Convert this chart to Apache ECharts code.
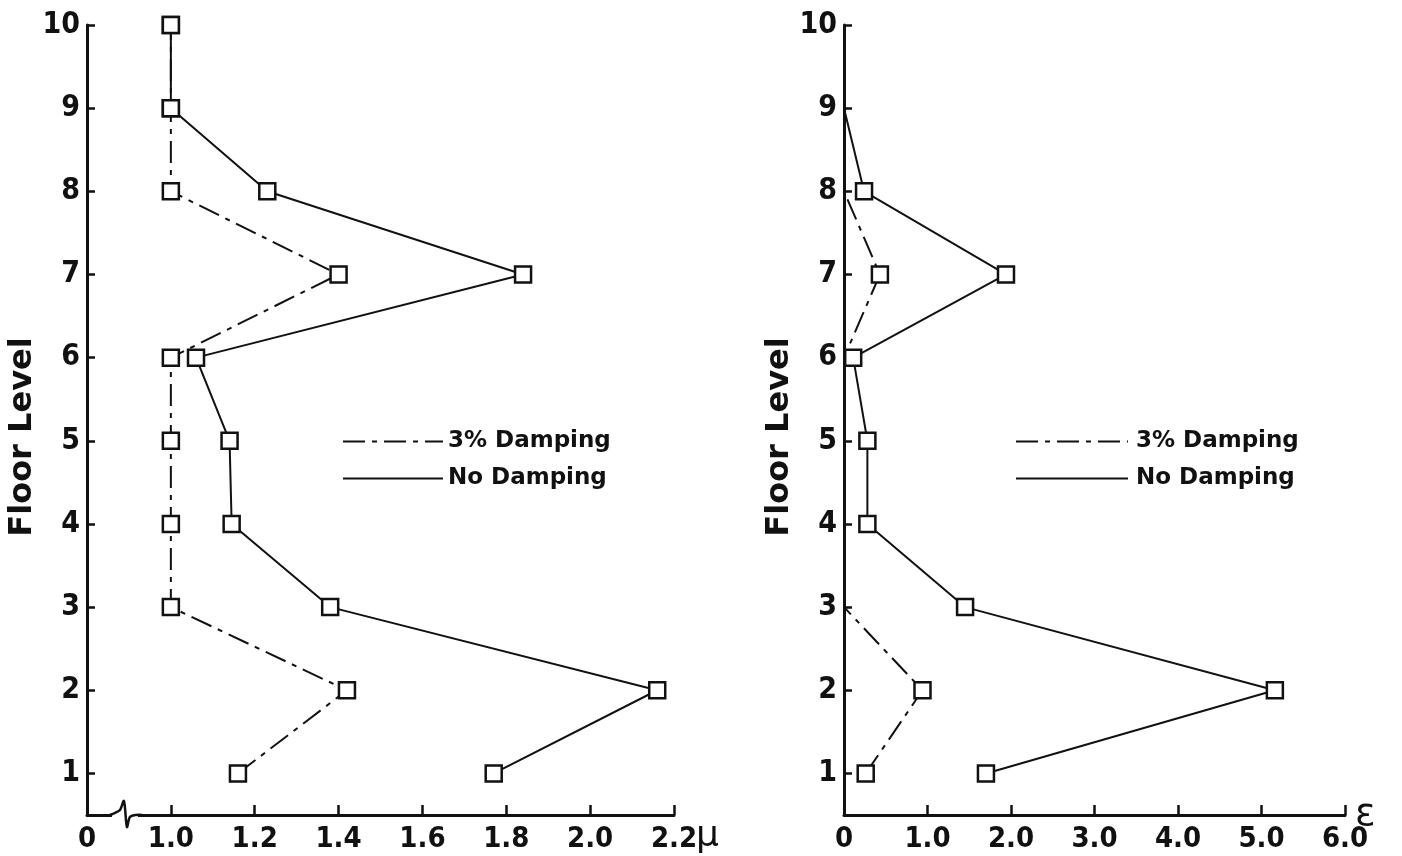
<!DOCTYPE html>
<html>
<head>
<meta charset="utf-8">
<script src="https://cdn.jsdelivr.net/npm/echarts@6/dist/echarts.min.js"></script>
<style>
html,body{margin:0;padding:0;background:#fff;}
#chart{width:1402px;height:856px;}
</style>
</head>
<body>
<div id="chart"></div>
<script>
// ---- data ----
const floors = [1, 2, 3, 4, 5, 6, 7, 8, 9, 10];
const seriesNames = ['3% Damping', 'No Damping'];
// left panel: ductility ratio mu
const muDamped   = [1.16, 1.42, 1.00, 1.00, 1.00, 1.00, 1.40, 1.00, 1.00, 1.00];
const muUndamped = [1.77, 2.16, 1.38, 1.145, 1.14, 1.06, 1.84, 1.23, 1.00, 1.00];
// right panel: epsilon
const epsDamped   = [0.26, 0.94, 0, 0, 0, 0, 0.43, 0, null, null];
const epsUndamped = [1.70, 5.16, 1.45, 0.28, 0.28, 0.11, 1.94, 0.24, 0, null];
// tick labels
const muTicks  = [0.8, 1.0, 1.2, 1.4, 1.6, 1.8, 2.0, 2.2];
const epsTicks = [0, 1, 2, 3, 4, 5, 6];
const floorTicks = floors;

const FONT = 'DejaVu Sans';
const TICKFONT = "'DejaVu Sans Condensed', 'DejaVu Sans'";
const BLACK = '#111';

function pts(xs, markAll) {
  return xs.map((v, i) => {
    if (v === null) return [null, floors[i]];
    const show = markAll ? true : v > 0.05;
    return { value: [v, floors[i]], symbol: show ? 'rect' : 'none' };
  });
}

const chart = echarts.init(document.getElementById('chart'), null, {renderer: 'canvas'});

const axisLine = {show: true, lineStyle: {color: BLACK, width: 3}};
function xAxisCfg(idx, ticks, fmt, name, nameGap, nameStyle) {
  return {
    type: 'value', gridIndex: idx, min: ticks[0], max: ticks[ticks.length - 1],
    axisLine,
    axisTick: {show: true, inside: true, length: 10, customValues: ticks, lineStyle: {color: BLACK, width: 2.5}},
    splitLine: {show: false},
    axisLabel: {color: BLACK, fontFamily: TICKFONT, fontSize: 29, fontWeight: 'bold', margin: 10,
      customValues: ticks, formatter: fmt},
    name, nameLocation: 'end', nameGap, nameMoveOverlap: false, nameTextStyle: nameStyle
  };
}
function yAxisCfg(idx, nameGap) {
  return {
    type: 'value', gridIndex: idx, min: 0.5, max: floorTicks[floorTicks.length - 1],
    axisLine,
    axisTick: {show: true, inside: true, length: 8, customValues: floorTicks, lineStyle: {color: BLACK, width: 2.5}},
    splitLine: {show: false},
    axisLabel: {color: BLACK, fontFamily: TICKFONT, fontSize: 30, fontWeight: 'bold', margin: 7,
      customValues: floorTicks, formatter: v => String(v)},
    name: 'Floor Level', nameLocation: 'middle', nameRotate: 90, nameGap,
    nameTextStyle: {color: BLACK, fontFamily: FONT, fontSize: 32, fontWeight: 'bold', padding: [0, 34, 0, 0]}
  };
}

const dashDot = [22, 7, 5, 7];
function lineSeries(name, xi, data, dashed, markAll) {
  return {
    name, type: 'line', xAxisIndex: xi, yAxisIndex: xi,
    data: pts(data, markAll), symbol: 'none', symbolSize: 16, showSymbol: true,
    connectNulls: false, animation: false,
    lineStyle: {color: BLACK, width: 2, type: dashed ? dashDot : 'solid'},
    itemStyle: {color: '#fff', borderColor: BLACK, borderWidth: 2.5},
    z: dashed ? 2 : 3
  };
}

const legendBase = {
  orient: 'vertical', itemHeight: 20, itemGap: 14, selectedMode: false, padding: 0,
  itemStyle: {color: 'rgba(0,0,0,0)', borderColor: 'rgba(0,0,0,0)', borderWidth: 0, opacity: 0},
  data: seriesNames
};
const legendText = pad => ({color: BLACK, fontFamily: FONT, fontSize: 23, fontWeight: 'bold', padding: [0, 0, 0, pad]});

chart.setOption({
  backgroundColor: '#fff',
  animation: false,
  grid: [
    {left: 87, top: 25, width: 587, height: 790},
    {left: 844, top: 25, width: 501, height: 790}
  ],
  xAxis: [
    xAxisCfg(0, muTicks, v => (v < muTicks[1] - 0.05 ? '0' : v.toFixed(1)), 'μ', 22,
      {color: BLACK, fontFamily: FONT, fontSize: 36, verticalAlign: 'top', padding: [4, 0, 0, 0]}),
    xAxisCfg(1, epsTicks, v => (v === 0 ? '0' : v.toFixed(1)), 'ε', 10,
      {color: BLACK, fontFamily: FONT, fontSize: 38, verticalAlign: 'middle', padding: [10, 0, 0, 0]})
  ],
  yAxis: [yAxisCfg(0, 47), yAxisCfg(1, 40)],
  legend: [
    Object.assign({}, legendBase, {left: 342, top: 430, itemWidth: 100, textStyle: legendText(0)}),
    Object.assign({}, legendBase, {left: 1015, top: 430, itemWidth: 112, textStyle: legendText(3)})
  ],
  series: [
    lineSeries(seriesNames[0], 0, muDamped, true, true),
    lineSeries(seriesNames[1], 0, muUndamped, false, true),
    lineSeries(seriesNames[0], 1, epsDamped, true, false),
    lineSeries(seriesNames[1], 1, epsUndamped, false, false)
  ]
});

// axis break squiggle on the left x-axis (decoration between 0 and 1.0)
const b = chart.convertToPixel({gridIndex: 0}, [0.9, 0.5]);
const bx = b[0] - 13, by = b[1];
chart.setOption({
  graphic: [
    {type: 'rect', shape: {x: bx - 4, y: by - 3, width: 26, height: 6}, style: {fill: '#fff'}, z: 100},
    {type: 'polyline', z: 101,
     shape: {points: [[bx - 6, by], [bx - 1, by - 2], [bx + 4, by - 5], [bx + 8, by - 14], [bx + 11, by + 12], [bx + 14, by + 2], [bx + 20, by], [bx + 26, by]], smooth: 0.3},
     style: {stroke: BLACK, lineWidth: 2.5, fill: null}}
  ]
});
</script>
</body>
</html>
